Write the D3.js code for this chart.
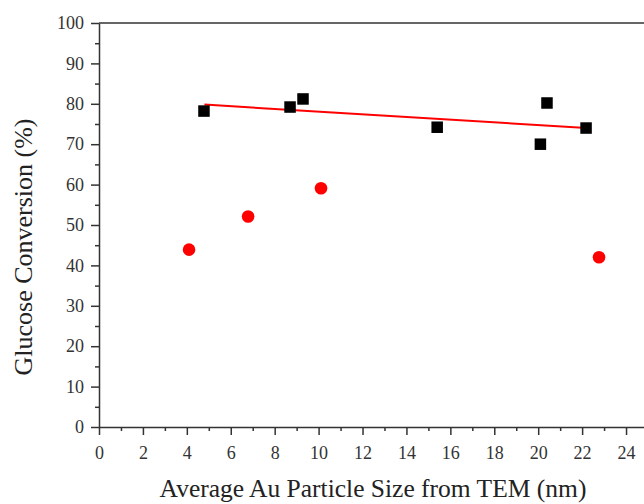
<!DOCTYPE html>
<html><head><meta charset="utf-8">
<script src="https://cdn.jsdelivr.net/npm/d3@7"></script>
<style>body{margin:0;background:#fff;} svg{display:block;} text{font-family:'Liberation Serif','Times New Roman',serif;}</style>
</head><body>
<svg id="c" width="644" height="504"></svg>
<script>
const squareX = [4.78, 8.70, 9.29, 15.40, 20.10, 20.40, 22.18];
const squareY = [78.2, 79.2, 81.2, 74.2, 70.0, 80.2, 74.0];
const circleX = [4.10, 6.79, 10.11, 22.77];
const circleY = [43.9, 52.1, 59.1, 42.0];
const fitX = [4.8, 22.2];
const fitY = [79.8, 74.0];
const xTicks = [0,2,4,6,8,10,12,14,16,18,20,22,24];
const yTicks = [0,10,20,30,40,50,60,70,80,90,100];

const svg = d3.select("#c");
const L = 99, T = 23, B = 427;
const x = d3.scaleLinear().domain([0, 25]).range([L, L + 25*21.96]);
const y = d3.scaleLinear().domain([0, 100]).range([B, T]);
const axisColor = "#333";
const font = "'Liberation Serif', 'Times New Roman', serif";

svg.append("line").attr("x1", L).attr("x2", x(25)).attr("y1", T).attr("y2", T)
  .attr("stroke", axisColor).attr("stroke-width", 1.5);

svg.append("g").attr("transform", `translate(0,${B})`)
  .call(d3.axisBottom(x).tickValues(xTicks).tickSize(8).tickPadding(11).tickSizeOuter(0));
svg.append("g").attr("transform", `translate(0,${B})`)
  .call(d3.axisBottom(x).tickValues(d3.range(1, 25, 2)).tickSize(4).tickFormat("").tickSizeOuter(0))
  .select(".domain").remove();
svg.append("g").attr("transform", `translate(${L},0)`)
  .call(d3.axisLeft(y).tickValues(yTicks).tickSize(8).tickPadding(7).tickSizeOuter(0));
svg.append("g").attr("transform", `translate(${L},0)`)
  .call(d3.axisLeft(y).tickValues(d3.range(5, 100, 10)).tickSize(4).tickFormat("").tickSizeOuter(0))
  .select(".domain").remove();

svg.selectAll("g").attr("font-family", null);
svg.selectAll(".domain, .tick line").attr("stroke", axisColor).attr("stroke-width", 1.5);
svg.selectAll(".tick text").style("font-family", font).style("font-size", "18px").attr("fill", "#333");

svg.append("path").datum(fitX.map((v,i)=>[v, fitY[i]]))
  .attr("d", d3.line().x(d=>x(d[0])).y(d=>y(d[1])))
  .attr("stroke", "#ff0000").attr("stroke-width", 2).attr("fill", "none");

const s = 11.5;
svg.selectAll("rect.sq").data(squareX.map((v,i)=>[v, squareY[i]])).enter()
  .append("rect").attr("x", d=>x(d[0])-s/2).attr("y", d=>y(d[1])-s/2)
  .attr("width", s).attr("height", s).attr("fill", "#000");

svg.selectAll("circle.ci").data(circleX.map((v,i)=>[v, circleY[i]])).enter()
  .append("circle").attr("cx", d=>x(d[0])).attr("cy", d=>y(d[1])).attr("r", 6.3)
  .attr("fill", "#ff0000");

svg.append("text").attr("x", 373).attr("y", 497).attr("text-anchor", "middle")
  .style("font-family", font).style("font-size", "25.5px").attr("fill", "#222")
  .text("Average Au Particle Size from TEM (nm)");
svg.append("text").attr("transform", "translate(32,247) rotate(-90)").attr("text-anchor", "middle")
  .style("font-family", font).style("font-size", "26px").attr("fill", "#222")
  .text("Glucose Conversion (%)");
</script>
</body></html>
